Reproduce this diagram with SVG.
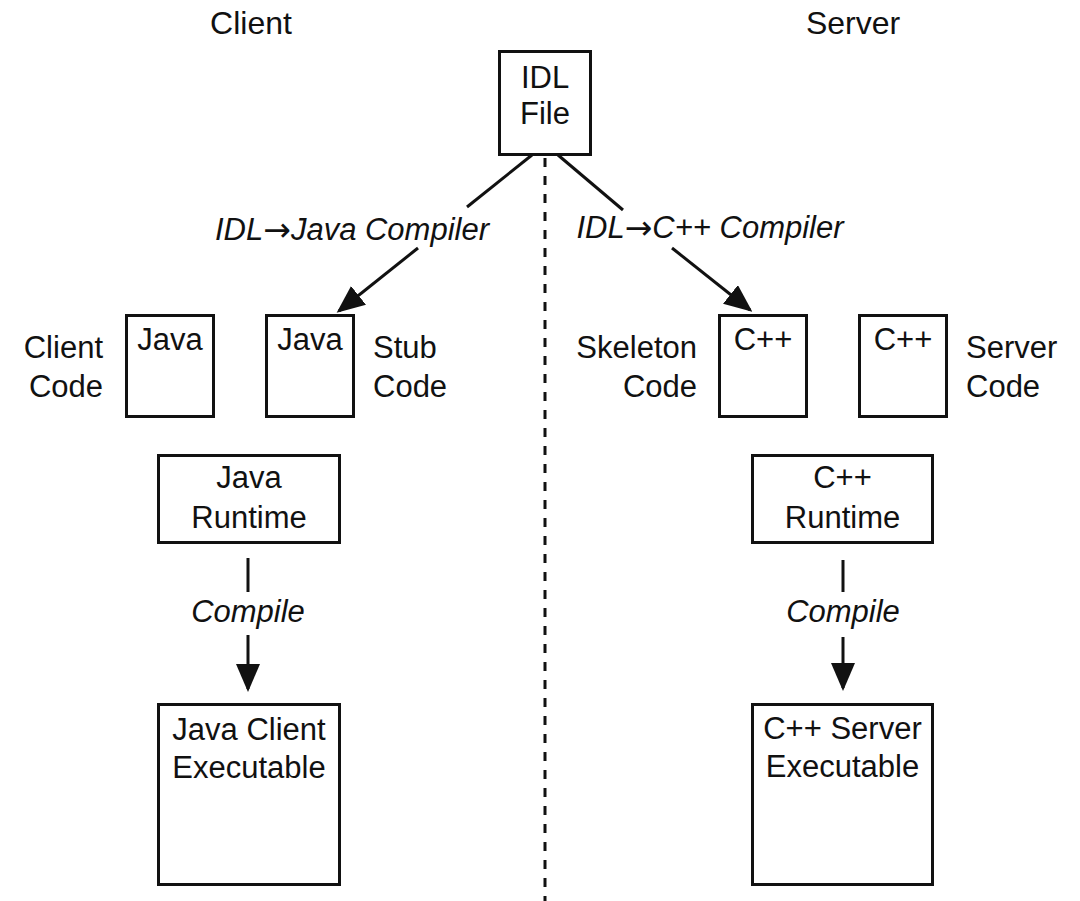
<svg xmlns="http://www.w3.org/2000/svg" width="1080" height="901" viewBox="0 0 1080 901">
  <style>
    text { font-family: "Liberation Sans", Arial, Helvetica, sans-serif; font-size: 31px; fill: #111; }
    .h { font-size: 32px; }
    .c { text-anchor: middle; }
    .e { text-anchor: end; }
    .s { text-anchor: start; }
    .it { font-style: italic; }
    .arr { font-family: "DejaVu Sans", sans-serif; font-style: normal; font-size: 33px; }
    .box { fill: #fff; stroke: #111; stroke-width: 3; }
    .ln { fill: none; stroke: #111; stroke-width: 3; }
    .dot { fill: none; stroke: #111; stroke-width: 3; stroke-dasharray: 9 9; }
  </style>
  <defs>
    <marker id="arrow" markerUnits="userSpaceOnUse" markerWidth="28" markerHeight="24" refX="25" refY="12" orient="auto">
      <path d="M0,0 L28,12 L0,24 z" fill="#111"/>
    </marker>
  </defs>
  <rect width="1080" height="901" fill="#fff"/>

  <!-- side headings -->
  <text class="c h" x="251" y="34">Client</text>
  <text class="c h" x="853" y="34">Server</text>

  <!-- connectors -->
  <g id="connectors">
    <path class="dot" d="M545,158 L545,901"/>
    <path class="ln" d="M532,155 L467,207"/>
    <path class="ln" d="M558,155 L623,210"/>
    <path class="ln" d="M418,248 L339,311" marker-end="url(#arrow)"/>
    <path class="ln" d="M672,248 L750,310" marker-end="url(#arrow)"/>
    <path class="ln" d="M248,558 L248,592"/>
    <path class="ln" d="M248,635 L248,689" marker-end="url(#arrow)"/>
    <path class="ln" d="M843,560 L843,592"/>
    <path class="ln" d="M843,637 L843,688" marker-end="url(#arrow)"/>
    <text class="c it" x="352" y="240">IDL<tspan class="arr" dy="1">→</tspan><tspan dy="-1">Java Compiler</tspan></text>
    <text class="c it" x="710" y="238">IDL<tspan class="arr" dy="1">→</tspan><tspan dy="-1">C++ Compiler</tspan></text>
    <text class="c it" x="248" y="622">Compile</text>
    <text class="c it" x="843" y="622">Compile</text>
  </g>

  <g id="idl-file">
    <rect class="box" x="499.5" y="51.5" width="91" height="103"/>
    <text class="c" x="545" y="88">IDL</text>
    <text class="c" x="545" y="124">File</text>
  </g>

  <g id="client-code">
    <rect class="box" x="126.5" y="315.5" width="87" height="101"/>
    <text class="c" x="170" y="350">Java</text>
    <text class="e" x="103" y="358">Client</text>
    <text class="e" x="103" y="397">Code</text>
  </g>

  <g id="stub-code">
    <rect class="box" x="266.5" y="315.5" width="87" height="101"/>
    <text class="c" x="310" y="350">Java</text>
    <text class="s" x="373" y="358">Stub</text>
    <text class="s" x="373" y="397">Code</text>
  </g>

  <g id="skeleton-code">
    <rect class="box" x="719.5" y="315.5" width="87" height="101"/>
    <text class="c" x="763" y="350">C++</text>
    <text class="e" x="697" y="358">Skeleton</text>
    <text class="e" x="697" y="397">Code</text>
  </g>

  <g id="server-code">
    <rect class="box" x="859.5" y="315.5" width="87" height="101"/>
    <text class="c" x="903" y="350">C++</text>
    <text class="s" x="966" y="358">Server</text>
    <text class="s" x="966" y="397">Code</text>
  </g>

  <g id="java-runtime">
    <rect class="box" x="158.5" y="455.5" width="181" height="87"/>
    <text class="c" x="249" y="488">Java</text>
    <text class="c" x="249" y="528">Runtime</text>
  </g>

  <g id="cpp-runtime">
    <rect class="box" x="752.5" y="455.5" width="180" height="87"/>
    <text class="c" x="842.5" y="488">C++</text>
    <text class="c" x="842.5" y="528">Runtime</text>
  </g>

  <g id="java-client-executable">
    <rect class="box" x="158.5" y="704.5" width="181" height="180"/>
    <text class="c" x="249" y="740">Java Client</text>
    <text class="c" x="249" y="778">Executable</text>
  </g>

  <g id="cpp-server-executable">
    <rect class="box" x="752.5" y="704.5" width="180" height="180"/>
    <text class="c" x="842.5" y="739">C++ Server</text>
    <text class="c" x="842.5" y="777">Executable</text>
  </g>
</svg>
